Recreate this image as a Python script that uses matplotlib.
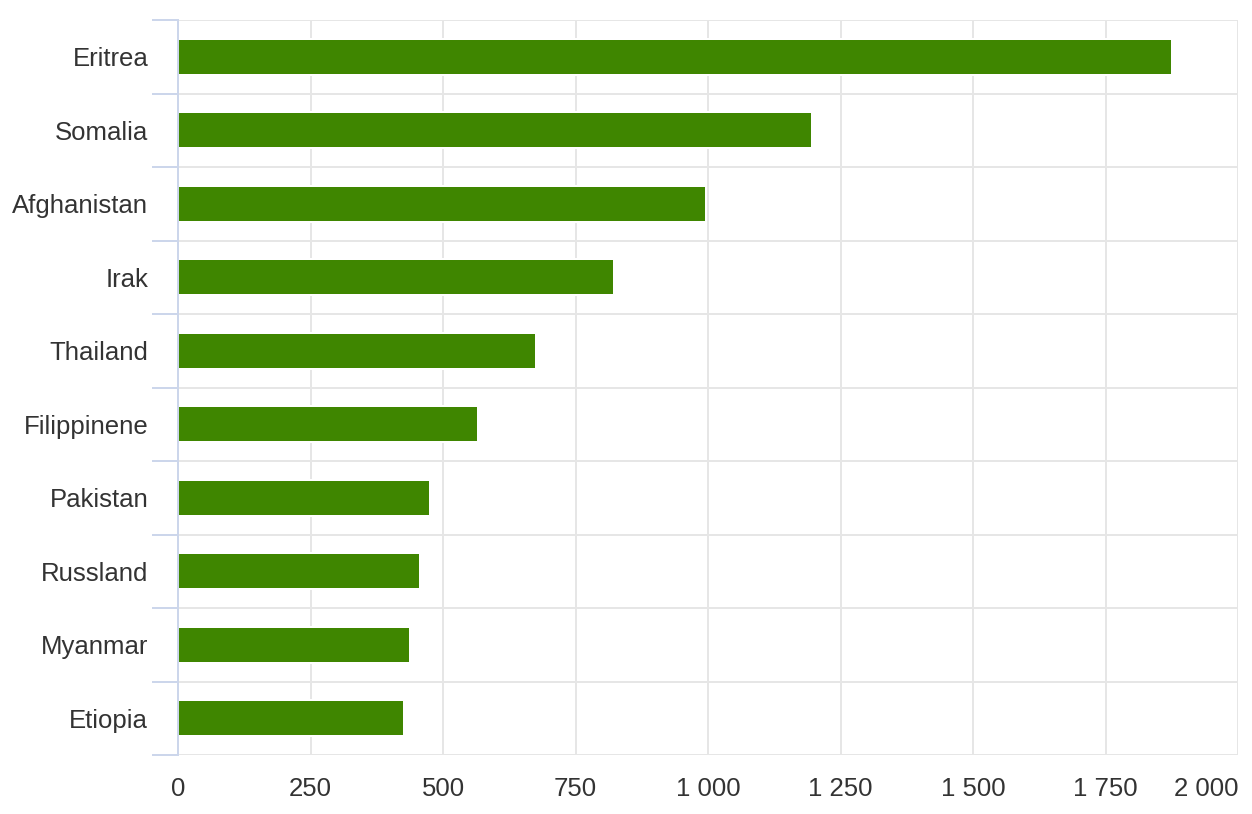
import matplotlib
matplotlib.use("Agg")
import matplotlib.pyplot as plt
import numpy as np

countries = ["Eritrea", "Somalia", "Afghanistan", "Irak", "Thailand",
             "Filippinene", "Pakistan", "Russland", "Myanmar", "Etiopia"]
values = [1874, 1194, 994, 821, 674, 564, 474, 455, 436, 425]
xticks = [0, 250, 500, 750, 1000, 1250, 1500, 1750, 2000]
xticklabels = ["0", "250", "500", "750", "1 000", "1 250", "1 500", "1 750", "2 000"]

plt.rcParams['font.family'] = ['Liberation Sans', 'DejaVu Sans']

W, H = 1252, 814
fig = plt.figure(figsize=(W / 100, H / 100), dpi=100)
ax = fig.add_axes([178 / W, (H - 755) / H, (1238 - 178) / W, (755 - 20) / H])

grid_c = '#e6e6e6'
axis_c = '#ccd6eb'
text_c = '#333333'
bar_c = '#3f8600'

y = np.arange(len(countries))
px = 0.72  # points per pixel at dpi 100
bar_h = 34 / 73.5

# white outline under the bars (border)
ax.barh(y, values, height=bar_h, color=bar_c, edgecolor='white',
        linewidth=4 * px, zorder=2)
ax.barh(y, values, height=bar_h, color=bar_c, edgecolor='none', zorder=3)

ax.set_xlim(0, 2000)
ax.set_ylim(len(countries) - 0.5, -0.5)

# x axis
ax.set_xticks(xticks)
ax.set_xticklabels(xticklabels)
ax.tick_params(axis='x', length=0, pad=15.5, labelsize=18.5, labelcolor=text_c)
ax.get_xticklabels()[-1].set_horizontalalignment('right')
for xv in xticks[1:]:
    ax.axvline(xv, color=grid_c, linewidth=2 * px, zorder=1)

# y axis: boundaries as major ticks, labels on minor ticks
bounds = np.arange(-0.5, len(countries), 1.0)
ax.set_yticks(bounds)
ax.set_yticklabels([])
ax.set_yticks(y, minor=True)
ax.set_yticklabels(countries, minor=True)
ax.tick_params(axis='y', which='major', length=19, width=2 * px, color=axis_c,
               direction='out')
ax.tick_params(axis='y', which='minor', length=0, pad=21.5, labelsize=18.5,
               labelcolor=text_c)
for b in bounds:
    ax.axhline(b, color=grid_c, linewidth=2 * px, zorder=1)

for s in ['top', 'right', 'bottom']:
    ax.spines[s].set_visible(False)
ax.spines['left'].set_color(axis_c)
ax.spines['left'].set_linewidth(2 * px)
ax.spines['left'].set_zorder(5)

fig.savefig("out.png", dpi=100)
